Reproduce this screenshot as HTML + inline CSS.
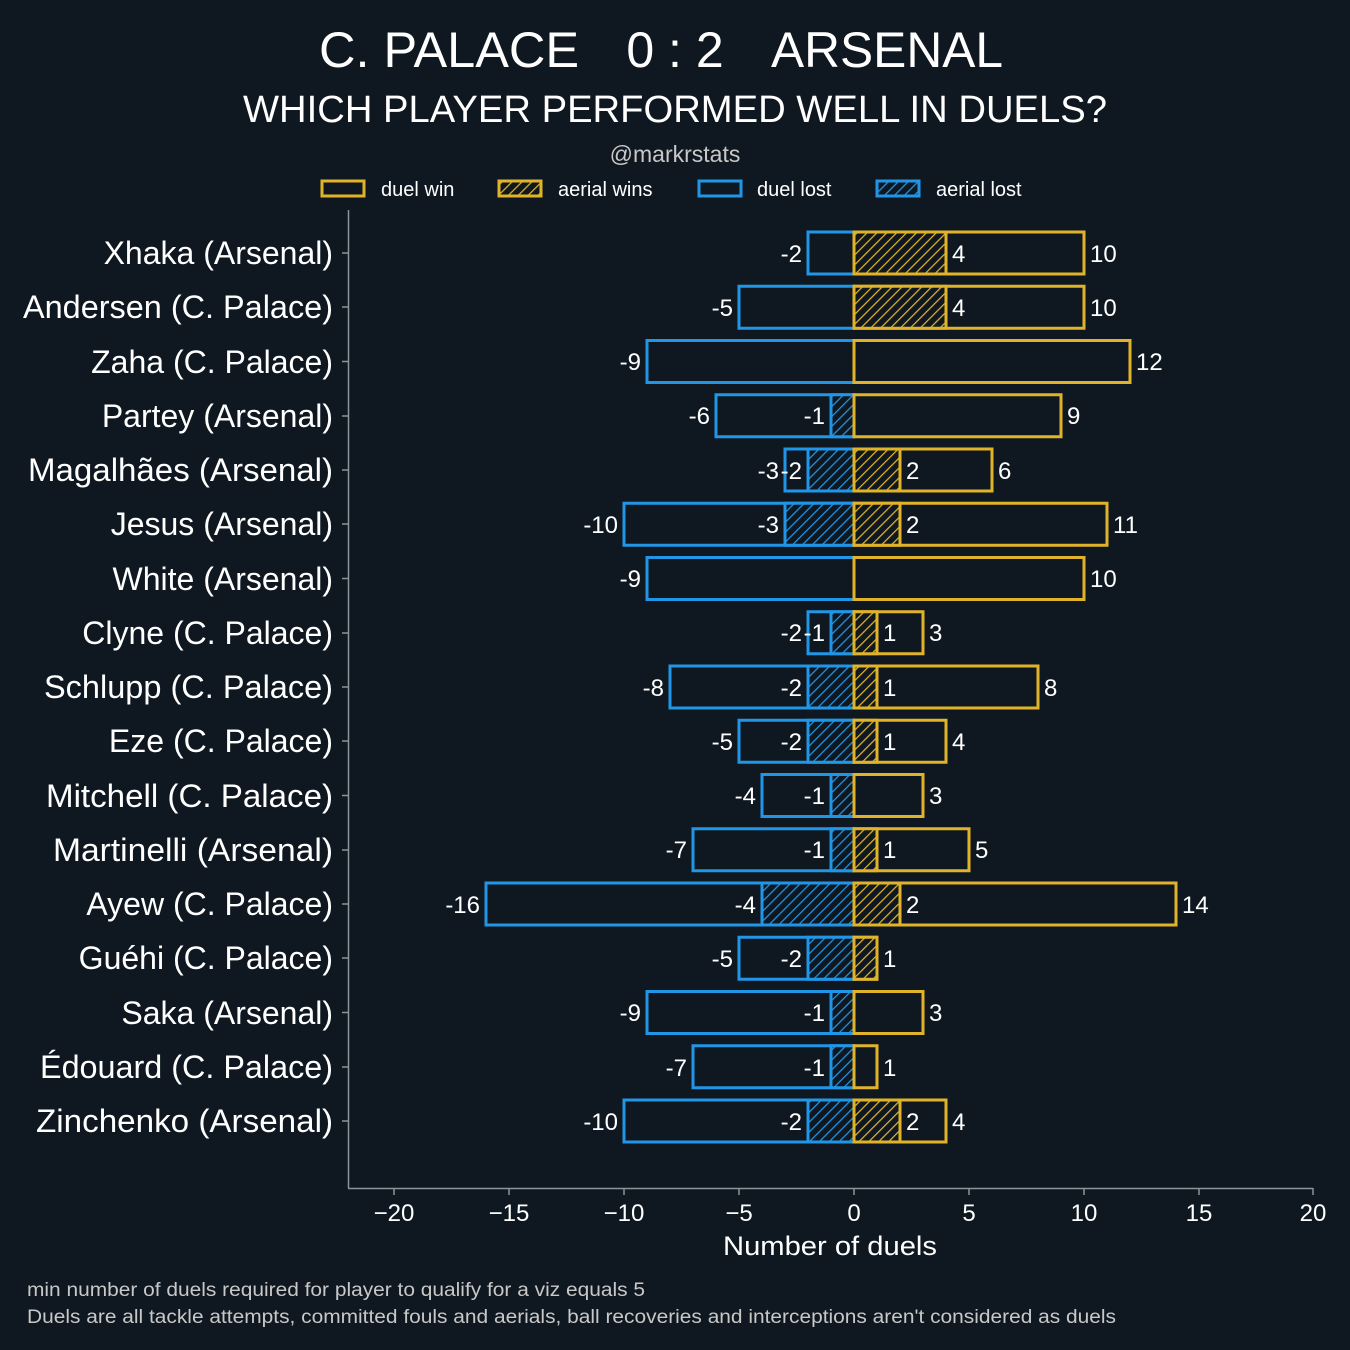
<!DOCTYPE html>
<html><head><meta charset="utf-8"><style>
html,body{margin:0;padding:0;background:#0f1820;}
svg{display:block;font-family:"Liberation Sans",sans-serif;}
</style></head><body>
<svg width="1350" height="1350" viewBox="0 0 1350 1350" xmlns="http://www.w3.org/2000/svg">
<defs>
<pattern id="hg" patternUnits="userSpaceOnUse" width="7" height="7" patternTransform="rotate(45)"><rect width="7" height="7" fill="#0f1820"/><line x1="0" y1="0" x2="0" y2="7" stroke="#e0b32a" stroke-width="2.5"/></pattern>
<pattern id="hb" patternUnits="userSpaceOnUse" width="7" height="7" patternTransform="rotate(45)"><rect width="7" height="7" fill="#0f1820"/><line x1="0" y1="0" x2="0" y2="7" stroke="#2196e6" stroke-width="2.5"/></pattern>
</defs>
<rect width="1350" height="1350" fill="#0f1820"/>
<g fill="#ffffff" text-anchor="middle">
<text x="449" y="67" font-size="50" textLength="260" lengthAdjust="spacingAndGlyphs">C. PALACE</text>
<text x="675" y="67" font-size="50">0 : 2</text>
<text x="887" y="67" font-size="50" textLength="232" lengthAdjust="spacingAndGlyphs">ARSENAL</text>
<text x="675" y="122" font-size="38" textLength="864" lengthAdjust="spacingAndGlyphs">WHICH PLAYER PERFORMED WELL IN DUELS?</text>
<text x="675" y="162" font-size="23" fill="#c8c8c8">@markrstats</text>
</g>
<g font-size="20" fill="#ffffff">
<rect x="322" y="181" width="42" height="15" fill="#0f1820" stroke="#e0b32a" stroke-width="3"/><text x="381" y="196">duel win</text>
<rect x="499" y="181" width="42" height="15" fill="url(#hg)" stroke="#e0b32a" stroke-width="3"/><text x="558" y="196">aerial wins</text>
<rect x="699" y="181" width="42" height="15" fill="#0f1820" stroke="#2196e6" stroke-width="3"/><text x="757" y="196">duel lost</text>
<rect x="877" y="181" width="42" height="15" fill="url(#hb)" stroke="#2196e6" stroke-width="3"/><text x="936" y="196">aerial lost</text>
</g>
<line x1="348.5" y1="210" x2="348.5" y2="1188" stroke="#8a9499" stroke-width="1.5"/>
<line x1="348" y1="1188.5" x2="1313" y2="1188.5" stroke="#8a9499" stroke-width="1.5"/>
<g stroke="#8a9499" stroke-width="1.5">
<line x1="394" y1="1188" x2="394" y2="1195"/><line x1="509" y1="1188" x2="509" y2="1195"/><line x1="624" y1="1188" x2="624" y2="1195"/><line x1="739" y1="1188" x2="739" y2="1195"/><line x1="854" y1="1188" x2="854" y2="1195"/><line x1="969" y1="1188" x2="969" y2="1195"/><line x1="1084" y1="1188" x2="1084" y2="1195"/><line x1="1199" y1="1188" x2="1199" y2="1195"/><line x1="1313" y1="1188" x2="1313" y2="1195"/>
</g>
<g fill="#ffffff" font-size="24" text-anchor="middle">
<text x="394" y="1221">−20</text><text x="509" y="1221">−15</text><text x="624" y="1221">−10</text><text x="739" y="1221">−5</text><text x="854" y="1221">0</text><text x="969" y="1221">5</text><text x="1084" y="1221">10</text><text x="1199" y="1221">15</text><text x="1313" y="1221">20</text>
<text x="830" y="1255" font-size="27" textLength="214" lengthAdjust="spacingAndGlyphs">Number of duels</text>
</g>
<g fill="#c8c8c8" font-size="19">
<text x="27" y="1296" textLength="618" lengthAdjust="spacingAndGlyphs">min number of duels required for player to qualify for a viz equals 5</text>
<text x="27" y="1323" textLength="1089" lengthAdjust="spacingAndGlyphs">Duels are all tackle attempts, committed fouls and aerials, ball recoveries and interceptions aren't considered as duels</text>
</g>
<g fill="#ffffff" font-size="32" text-anchor="end">
<text x="333" y="264">Xhaka (Arsenal)</text>
<text x="333" y="318" textLength="310" lengthAdjust="spacingAndGlyphs">Andersen (C. Palace)</text>
<text x="333" y="373">Zaha (C. Palace)</text>
<text x="333" y="427">Partey (Arsenal)</text>
<text x="333" y="481" textLength="305" lengthAdjust="spacingAndGlyphs">Magalhães (Arsenal)</text>
<text x="333" y="535">Jesus (Arsenal)</text>
<text x="333" y="590">White (Arsenal)</text>
<text x="333" y="644">Clyne (C. Palace)</text>
<text x="333" y="698" textLength="289" lengthAdjust="spacingAndGlyphs">Schlupp (C. Palace)</text>
<text x="333" y="752">Eze (C. Palace)</text>
<text x="333" y="807" textLength="287" lengthAdjust="spacingAndGlyphs">Mitchell (C. Palace)</text>
<text x="333" y="861" textLength="280" lengthAdjust="spacingAndGlyphs">Martinelli (Arsenal)</text>
<text x="333" y="915">Ayew (C. Palace)</text>
<text x="333" y="969">Guéhi (C. Palace)</text>
<text x="333" y="1024">Saka (Arsenal)</text>
<text x="333" y="1078" textLength="293" lengthAdjust="spacingAndGlyphs">Édouard (C. Palace)</text>
<text x="333" y="1132" textLength="297" lengthAdjust="spacingAndGlyphs">Zinchenko (Arsenal)</text>
</g>
<g stroke="#8a9499" stroke-width="1.5">
<line x1="342" y1="253" x2="348" y2="253"/><line x1="342" y1="307" x2="348" y2="307"/><line x1="342" y1="361.5" x2="348" y2="361.5"/><line x1="342" y1="416" x2="348" y2="416"/><line x1="342" y1="470" x2="348" y2="470"/><line x1="342" y1="524" x2="348" y2="524"/><line x1="342" y1="578.5" x2="348" y2="578.5"/><line x1="342" y1="633" x2="348" y2="633"/><line x1="342" y1="687" x2="348" y2="687"/><line x1="342" y1="741" x2="348" y2="741"/><line x1="342" y1="795.5" x2="348" y2="795.5"/><line x1="342" y1="850" x2="348" y2="850"/><line x1="342" y1="904" x2="348" y2="904"/><line x1="342" y1="958" x2="348" y2="958"/><line x1="342" y1="1012.5" x2="348" y2="1012.5"/><line x1="342" y1="1067" x2="348" y2="1067"/><line x1="342" y1="1121" x2="348" y2="1121"/>
</g>
<g stroke="#2196e6" stroke-width="3" fill="#0f1820">
<rect x="808" y="232" width="46" height="42"/>
<rect x="739" y="286.25" width="115" height="42"/>
<rect x="647" y="340.5" width="207" height="42"/>
<rect x="716" y="394.75" width="138" height="42"/>
<rect x="785" y="449" width="69" height="42"/>
<rect x="624" y="503.25" width="230" height="42"/>
<rect x="647" y="557.5" width="207" height="42"/>
<rect x="808" y="611.75" width="46" height="42"/>
<rect x="670" y="666" width="184" height="42"/>
<rect x="739" y="720.25" width="115" height="42"/>
<rect x="762" y="774.5" width="92" height="42"/>
<rect x="693" y="828.75" width="161" height="42"/>
<rect x="486" y="883" width="368" height="42"/>
<rect x="739" y="937.25" width="115" height="42"/>
<rect x="647" y="991.5" width="207" height="42"/>
<rect x="693" y="1045.75" width="161" height="42"/>
<rect x="624" y="1100" width="230" height="42"/>
</g>
<g stroke="#2196e6" stroke-width="3" fill="url(#hb)">
<rect x="831" y="394.75" width="23" height="42"/>
<rect x="808" y="449" width="46" height="42"/>
<rect x="785" y="503.25" width="69" height="42"/>
<rect x="831" y="611.75" width="23" height="42"/>
<rect x="808" y="666" width="46" height="42"/>
<rect x="808" y="720.25" width="46" height="42"/>
<rect x="831" y="774.5" width="23" height="42"/>
<rect x="831" y="828.75" width="23" height="42"/>
<rect x="762" y="883" width="92" height="42"/>
<rect x="808" y="937.25" width="46" height="42"/>
<rect x="831" y="991.5" width="23" height="42"/>
<rect x="831" y="1045.75" width="23" height="42"/>
<rect x="808" y="1100" width="46" height="42"/>
</g>
<g stroke="#e0b32a" stroke-width="3" fill="#0f1820">
<rect x="854" y="232" width="230" height="42"/>
<rect x="854" y="286.25" width="230" height="42"/>
<rect x="854" y="340.5" width="276" height="42"/>
<rect x="854" y="394.75" width="207" height="42"/>
<rect x="854" y="449" width="138" height="42"/>
<rect x="854" y="503.25" width="253" height="42"/>
<rect x="854" y="557.5" width="230" height="42"/>
<rect x="854" y="611.75" width="69" height="42"/>
<rect x="854" y="666" width="184" height="42"/>
<rect x="854" y="720.25" width="92" height="42"/>
<rect x="854" y="774.5" width="69" height="42"/>
<rect x="854" y="828.75" width="115" height="42"/>
<rect x="854" y="883" width="322" height="42"/>
<rect x="854" y="937.25" width="23" height="42"/>
<rect x="854" y="991.5" width="69" height="42"/>
<rect x="854" y="1045.75" width="23" height="42"/>
<rect x="854" y="1100" width="92" height="42"/>
</g>
<g stroke="#e0b32a" stroke-width="3" fill="url(#hg)">
<rect x="854" y="232" width="92" height="42"/>
<rect x="854" y="286.25" width="92" height="42"/>
<rect x="854" y="449" width="46" height="42"/>
<rect x="854" y="503.25" width="46" height="42"/>
<rect x="854" y="611.75" width="23" height="42"/>
<rect x="854" y="666" width="23" height="42"/>
<rect x="854" y="720.25" width="23" height="42"/>
<rect x="854" y="828.75" width="23" height="42"/>
<rect x="854" y="883" width="46" height="42"/>
<rect x="854" y="937.25" width="23" height="42"/>
<rect x="854" y="1100" width="46" height="42"/>
</g>
<g fill="#ffffff" font-size="24" text-anchor="end">
<text x="802" y="262">-2</text>
<text x="733" y="316">-5</text>
<text x="641" y="370">-9</text>
<text x="710" y="424">-6</text><text x="825" y="424">-1</text>
<text x="779" y="479">-3</text><text x="802" y="479">-2</text>
<text x="618" y="533">-10</text><text x="779" y="533">-3</text>
<text x="641" y="587">-9</text>
<text x="802" y="641">-2</text><text x="825" y="641">-1</text>
<text x="664" y="696">-8</text><text x="802" y="696">-2</text>
<text x="733" y="750">-5</text><text x="802" y="750">-2</text>
<text x="756" y="804">-4</text><text x="825" y="804">-1</text>
<text x="687" y="858">-7</text><text x="825" y="858">-1</text>
<text x="480" y="913">-16</text><text x="756" y="913">-4</text>
<text x="733" y="967">-5</text><text x="802" y="967">-2</text>
<text x="641" y="1021">-9</text><text x="825" y="1021">-1</text>
<text x="687" y="1076">-7</text><text x="825" y="1076">-1</text>
<text x="618" y="1130">-10</text><text x="802" y="1130">-2</text>
</g>
<g fill="#ffffff" font-size="24">
<text x="952" y="262">4</text><text x="1090" y="262">10</text>
<text x="952" y="316">4</text><text x="1090" y="316">10</text>
<text x="1136" y="370">12</text>
<text x="1067" y="424">9</text>
<text x="906" y="479">2</text><text x="998" y="479">6</text>
<text x="906" y="533">2</text><text x="1113" y="533">11</text>
<text x="1090" y="587">10</text>
<text x="883" y="641">1</text><text x="929" y="641">3</text>
<text x="883" y="696">1</text><text x="1044" y="696">8</text>
<text x="883" y="750">1</text><text x="952" y="750">4</text>
<text x="929" y="804">3</text>
<text x="883" y="858">1</text><text x="975" y="858">5</text>
<text x="906" y="913">2</text><text x="1182" y="913">14</text>
<text x="883" y="967">1</text>
<text x="929" y="1021">3</text>
<text x="883" y="1076">1</text>
<text x="906" y="1130">2</text><text x="952" y="1130">4</text>
</g>
</svg>
</body></html>
